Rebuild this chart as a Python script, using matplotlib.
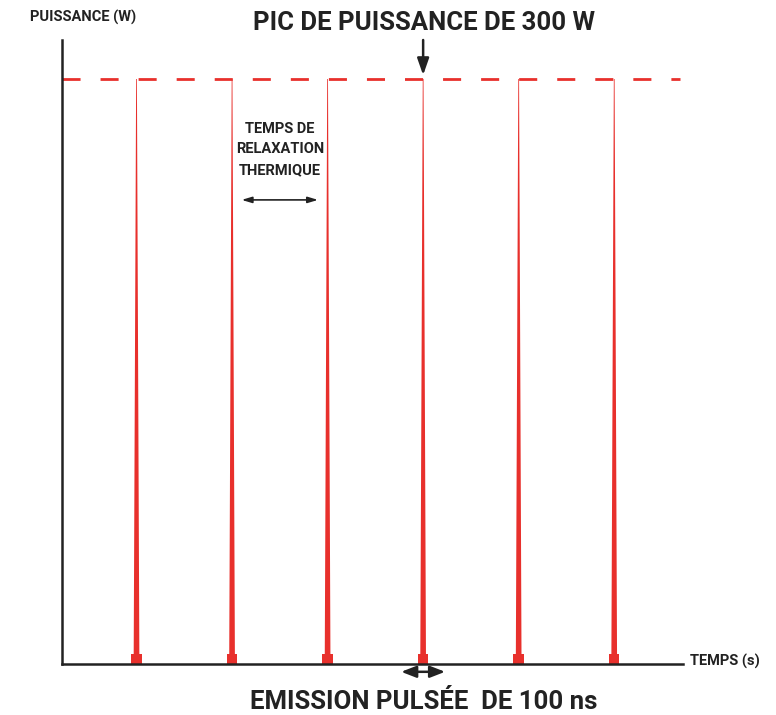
import matplotlib
matplotlib.use("Agg")
import matplotlib.pyplot as plt
import numpy as np

# data
pulse_times = [0.78, 1.78, 2.78, 3.78, 4.78, 5.78]   # pulse centres (period units)
peak_power = 300                                    # W
title_top = "PIC DE PUISSANCE DE 300 W"
title_bottom = "EMISSION PULSÉE  DE 100 ns"
relax_label = "TEMPS DE\nRELAXATION\nTHERMIQUE"
ylabel = "PUISSANCE (W)"
xlabel = "TEMPS (s)"

red = "#e8302c"
dark = "#222222"
plt.rcParams["font.family"] = ["Roboto", "DejaVu Sans"]

fig = plt.figure(figsize=(7.76, 7.15), dpi=100)
ax = fig.add_axes([62 / 776, 51 / 715, 621 / 776, 624 / 715])
ax.set_xlim(0, 6.5)
ax.set_ylim(0, 320)

# pulses: thin spike widening to a small foot
w_top, w_bot, w_foot, h_foot = 0.004, 0.03, 0.055, 5
for t in pulse_times:
    ax.fill([t - w_bot, t - w_top, t + w_top, t + w_bot],
            [0, peak_power, peak_power, 0], color=red, lw=0)
    ax.fill([t - w_foot, t - w_foot, t + w_foot, t + w_foot],
            [0, h_foot, h_foot, 0], color=red, lw=0)

# peak level
ax.axhline(peak_power, color=red, lw=2, dashes=(6.5, 7.2), xmax=0.995)

for s in ["top", "right"]:
    ax.spines[s].set_visible(False)
for s in ["left", "bottom"]:
    ax.spines[s].set_color(dark)
    ax.spines[s].set_linewidth(1.8)
ax.set_xticks([])
ax.set_yticks([])

# peak arrow + title
mid = pulse_times[3]
ax.annotate("", xy=(mid, peak_power + 2), xytext=(mid, 320),
            arrowprops=dict(arrowstyle="-|>,head_width=0.35,head_length=1.0",
                            color=dark, lw=1.8, shrinkA=0, shrinkB=0))
fig.text(424 / 776, 1 - 23 / 715, title_top, ha="center", va="center",
         fontsize=18.5, fontweight="bold", color=dark)

# pulse width arrow + bottom title
ax.annotate("", xy=(mid - 0.23, -4), xytext=(mid + 0.23, -4),
            arrowprops=dict(arrowstyle="<|-|>,head_width=0.35,head_length=0.9",
                            color=dark, lw=1.8, shrinkA=0, shrinkB=0),
            annotation_clip=False)
fig.text(424 / 776, 1 - 702 / 715, title_bottom, ha="center", va="center",
         fontsize=18.5, fontweight="bold", color=dark)

# relaxation time
ax.text((pulse_times[1] + pulse_times[2]) / 2, 264, relax_label, ha="center", va="center",
        fontsize=10.5, fontweight="bold", color=dark, linespacing=1.6)
ax.annotate("", xy=(pulse_times[1] + 0.1, 238), xytext=(pulse_times[2] - 0.1, 238),
            arrowprops=dict(arrowstyle="<|-|>,head_width=0.18,head_length=0.6",
                            color=dark, lw=1.2, shrinkA=0, shrinkB=0))

# axis labels
fig.text(30 / 776, 1 - 17 / 715, ylabel, ha="left", va="center",
         fontsize=10.5, fontweight="bold", color=dark)
fig.text(690 / 776, 1 - 661 / 715, xlabel, ha="left", va="center",
         fontsize=10.5, fontweight="bold", color=dark)

fig.savefig("out.png", dpi=100)
